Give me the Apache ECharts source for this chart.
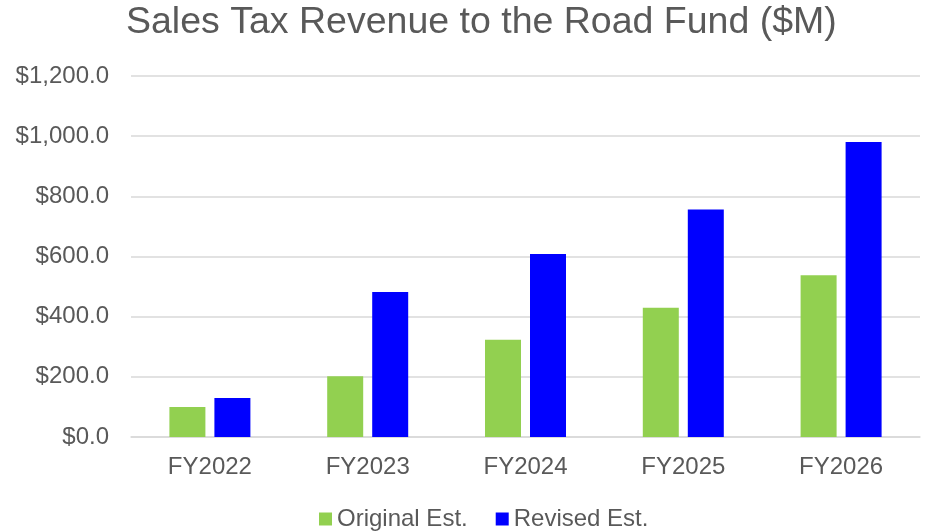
<!DOCTYPE html>
<html>
<head>
<meta charset="utf-8">
<script src="https://cdn.jsdelivr.net/npm/echarts@6/dist/echarts.min.js"></script>
<style>
  html, body { margin: 0; padding: 0; background: #fff; }
  #chart { width: 930px; height: 531px; }
</style>
</head>
<body>
<div id="chart"></div>
<script>
// Fiscal years on the category axis
const categories = ['FY2022', 'FY2023', 'FY2024', 'FY2025', 'FY2026'];
// Sales tax revenue estimates, $M
const originalEst = [100, 202, 323, 430, 538];
const revisedEst = [130, 482, 608, 756, 981];
// Value axis ticks
const yTicks = [0, 200, 400, 600, 800, 1000, 1200];

const FONT = '"Liberation Sans", Arial, sans-serif';
const TEXT = '#595959';

const chart = echarts.init(document.getElementById('chart'), null, { renderer: 'canvas' });

const fmt = v => '$' + v.toLocaleString('en-US', { minimumFractionDigits: 1, maximumFractionDigits: 1 });

chart.setOption({
  animation: false,
  backgroundColor: '#ffffff',
  title: {
    text: 'Sales Tax Revenue to the Road Fund ($M)',
    left: 126,
    top: 0,
    padding: [4, 0],
    textStyle: { fontFamily: FONT, fontSize: 37.5, fontWeight: 'normal', color: TEXT }
  },
  legend: {
    bottom: 0,
    left: 314,
    padding: [0, 5, 0, 5],
    itemWidth: 13,
    itemHeight: 13,
    itemGap: 28,
    icon: 'rect',
    textStyle: { fontFamily: FONT, fontSize: 24, color: TEXT },
    data: ['Original Est.', 'Revised Est.']
  },
  grid: { left: 131, right: 10, top: 76, bottom: 94, containLabel: false },
  xAxis: {
    type: 'category',
    data: categories,
    axisLine: { show: true, lineStyle: { color: '#d9d9d9', width: 1.5 } },
    axisTick: { show: false },
    axisLabel: { fontFamily: FONT, fontSize: 24, color: TEXT, margin: 18 }
  },
  yAxis: {
    type: 'value',
    min: yTicks[0],
    max: yTicks[yTicks.length - 1],
    interval: yTicks[1] - yTicks[0],
    axisLine: { show: false },
    axisTick: { show: false },
    splitLine: { lineStyle: { color: '#d9d9d9', width: 1.5 } },
    axisLabel: { fontFamily: FONT, fontSize: 24, color: TEXT, margin: 22, formatter: fmt }
  },
  series: [
    {
      name: 'Original Est.',
      type: 'bar',
      data: originalEst,
      barWidth: 36,
      barGap: '25%',
      itemStyle: { color: '#92d050' }
    },
    {
      name: 'Revised Est.',
      type: 'bar',
      data: revisedEst,
      barWidth: 36,
      barGap: '25%',
      itemStyle: { color: '#0000ff' }
    }
  ]
});
</script>
</body>
</html>
